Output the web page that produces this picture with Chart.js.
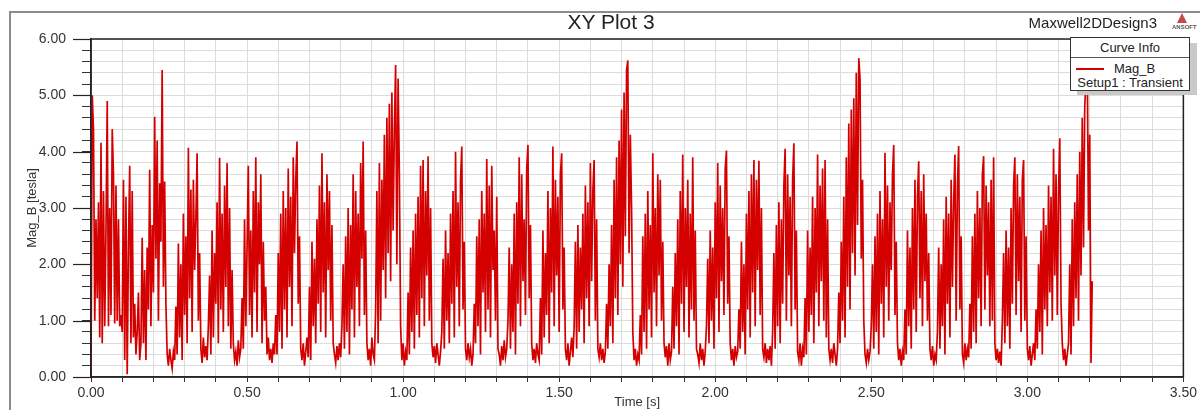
<!DOCTYPE html>
<html>
<head>
<meta charset="utf-8">
<script src="https://cdn.jsdelivr.net/npm/chart.js@4.4.1/dist/chart.umd.min.js"></script>
<style>
  body { margin: 0; background: #fff; }
  #wrap { position: relative; width: 1200px; height: 410px; overflow: hidden; font-family: "Liberation Sans", Arial, sans-serif; color: #222; }
  #frame { position: absolute; left: 9px; top: 11px; width: 1300px; height: 500px; border-left: 2px solid #8c8c8c; border-top: 2px solid #8c8c8c; pointer-events: none; }
  #plotTitle { position: absolute; left: 511px; top: 9px; width: 200px; text-align: center; font-size: 21px; line-height: 26px; }
  #design { position: absolute; left: 960px; top: 14px; width: 197px; text-align: right; font-size: 15px; line-height: 18px; }
  #logo { position: absolute; left: 1171px; top: 12px; width: 29px; height: 20px; }
  #logo .tri { position: absolute; left: 6px; top: 1px; width: 0; height: 0; border-left: 5.5px solid transparent; border-right: 5.5px solid transparent; border-bottom: 10px solid #c84848; }
  #logo .txt { position: absolute; left: 1px; top: 12px; font-size: 6px; font-weight: bold; color: #555; letter-spacing: 0; }
  #shadow { position: absolute; left: 1077px; top: 43px; width: 120px; height: 52px; background: #c9c9c9; }
  #legend { position: absolute; left: 1070px; top: 37px; width: 118px; height: 52px; background: #fff; border: 1px solid #333; font-size: 13px; }
  #legend .head { height: 19px; line-height: 19px; text-align: center; border-bottom: 1px solid #555; }
  #legend .row { position: relative; height: 14px; line-height: 14px; margin-top: 4px; }
  #legend .swatch { position: absolute; left: 5px; top: 6px; width: 28px; height: 2px; background: #d40000; }
  #legend .name { position: absolute; left: 43px; top: 0; }
  #legend .setup { text-align: center; height: 14px; line-height: 14px; }
</style>
</head>
<body>
<div id="wrap">
  <canvas id="plot"></canvas>
  <div id="frame"></div>
  <div id="plotTitle">XY Plot 3</div>
  <div id="design">Maxwell2DDesign3</div>
  <div id="logo"><div class="tri"></div><div class="txt">ANSOFT</div></div>
  <div id="shadow"></div>
  <div id="legend">
    <div class="head">Curve Info</div>
    <div class="row"><div class="swatch"></div><div class="name">Mag_B</div></div>
    <div class="setup">Setup1 : Transient</div>
  </div>
</div>
<script>
const timeStep = 0.004; // s between samples

const magB = [
  0.0, 5.0, 4.4, 1.0, 2.8, 1.4, 3.1, 0.7, 4.16, 0.6, 3.3, 0.9, 2.6, 4.9, 0.9, 3.0, 1.1, 4.4, 3.6,
  0.95, 3.4, 1.0, 2.8, 0.9, 1.1, 0.8,
  3.5, 0.3, 3.2, 0.05, 2.3, 3.75, 0.6, 3.3,
  0.7, 1.3, 0.4, 0.8, 1.5, 0.3, 0.6,
  2.47, 0.6, 1.9, 0.3, 2.3, 1.2, 3.68, 0.9, 2.7, 1.5, 4.62, 2.1, 4.2, 1.0, 3.44, 2.4, 5.45, 1.6, 3.47, 1.3, 0.4, 0.2, 0.5, 0.3, 0.15, 0.45, 0.3,
  1.25, 0.4, 2.37, 0.7, 2.0, 0.3, 2.9, 1.1, 2.5, 0.6, 4.07, 1.4, 3.33, 0.8, 3.5, 1.9, 2.8, 3.97, 1.0, 2.2, 0.5, 0.25, 0.7, 0.35, 0.55, 0.3,
  0.9, 1.8, 0.4, 2.6, 0.7, 2.2, 1.3, 3.1, 0.6, 3.89, 1.2, 2.9, 0.8, 3.4, 1.6, 3.8, 0.9, 3.0, 0.5, 1.9, 0.6, 0.3, 0.45, 0.2, 0.65, 0.35, 0.5,
  1.4, 0.5, 2.8, 0.9, 2.3, 3.75, 1.1, 2.6, 0.7, 3.3, 1.5, 3.9, 0.8, 3.1, 2.0, 3.6, 0.6, 2.4, 1.0, 1.6, 0.4, 0.7, 0.3, 0.5, 0.25, 0.6, 0.4,
  1.1, 0.4, 2.2, 0.8, 2.9, 0.5, 3.3, 1.2, 3.0, 0.7, 3.7, 1.6, 3.2, 0.9, 3.9, 2.2, 3.5, 4.18, 1.3, 2.5, 0.5, 0.3, 0.6, 0.2, 0.45, 0.7, 0.35,
  1.6, 0.3, 2.4, 0.9, 2.1, 0.6, 2.8, 1.3, 3.4, 0.8, 3.97, 1.5, 3.1, 0.7, 3.6, 1.9, 3.3, 1.0, 2.7, 0.6, 0.4, 0.25, 0.55, 0.3, 0.6, 0.35,
  0.9, 2.0, 0.5, 2.5, 0.8, 3.0, 0.4, 2.7, 1.2, 3.6, 0.7, 3.3, 1.6, 2.9, 0.9, 3.8, 2.1, 4.18, 1.1, 2.6, 0.6, 0.3, 0.5, 0.2, 0.7, 0.4, 0.3,
  1.2, 3.3, 0.6, 3.8, 1.0, 3.5, 1.9, 4.3, 1.4, 4.6, 2.2, 4.85, 1.7, 5.05, 2.6, 4.4, 5.54, 2.0, 5.3, 3.6, 0.9, 0.3, 0.6, 0.2, 0.45, 0.3,
  1.5, 0.4, 2.3, 0.8, 2.6, 0.5, 2.9, 1.1, 3.2, 0.7, 3.75, 1.4, 3.85, 0.9, 3.3, 1.8, 3.92, 1.0, 3.0, 0.6, 0.35, 0.55, 0.25, 0.6, 0.4, 0.2, 0.45,
  0.8, 2.1, 0.5, 2.6, 1.0, 2.2, 0.6, 2.9, 1.3, 3.3, 0.7, 4.0, 1.6, 3.1, 0.9, 3.5, 4.09, 1.2, 2.4, 0.5, 0.3, 0.6, 0.35, 0.5, 0.2, 0.4,
  1.3, 0.6, 2.5, 0.9, 2.8, 0.4, 3.3, 1.5, 2.9, 0.8, 3.87, 1.2, 3.4, 0.7, 3.75, 1.9, 2.6, 1.0, 3.2, 0.5, 0.4, 0.2, 0.55, 0.3, 0.65, 0.35, 0.5,
  1.0, 2.3, 0.5, 2.0, 0.8, 2.9, 0.4, 3.1, 1.3, 3.9, 0.9, 3.6, 1.7, 2.8, 1.1, 3.7, 4.12, 1.4, 2.7, 0.6, 0.3, 0.5, 0.25, 0.6, 0.4, 0.3,
  1.4, 0.4, 2.6, 0.7, 2.2, 1.1, 3.3, 0.6, 3.0, 1.5, 4.09, 0.9, 3.5, 1.8, 3.2, 0.8, 3.6, 3.97, 1.2, 2.3, 0.5, 0.3, 0.6, 0.2, 0.45, 0.7, 0.35,
  0.9, 2.4, 0.5, 2.7, 0.8, 2.3, 1.2, 2.9, 0.6, 3.4, 1.4, 3.1, 0.9, 3.8, 1.7, 3.3, 3.85, 1.0, 2.8, 0.5, 0.35, 0.6, 0.3, 0.5, 0.25, 0.45,
  1.3, 0.5, 2.0, 0.9, 2.7, 0.6, 3.5, 1.4, 3.9, 1.1, 4.2, 2.0, 4.75, 1.6, 5.05, 2.5, 5.45, 5.62, 2.2, 4.3, 3.0, 0.8, 0.3, 0.5, 0.2, 0.4, 0.3,
  1.1, 0.4, 2.5, 0.8, 2.9, 0.5, 3.3, 1.2, 2.7, 0.7, 3.97, 1.5, 3.0, 0.9, 3.6, 1.8, 3.5, 1.0, 2.4, 0.6, 0.35, 0.55, 0.2, 0.6, 0.3, 0.45,
  1.6, 0.5, 2.2, 0.9, 2.8, 0.4, 3.3, 1.3, 3.95, 0.8, 3.0, 1.6, 3.5, 0.7, 2.9, 1.2, 3.9, 1.0, 2.6, 0.5, 0.4, 0.25, 0.6, 0.3, 0.5, 0.2, 0.45,
  0.9, 2.1, 0.6, 2.6, 1.0, 2.3, 0.5, 3.1, 1.4, 3.8, 0.8, 3.4, 1.7, 3.0, 1.1, 3.7, 4.02, 1.3, 2.5, 0.6, 0.3, 0.5, 0.2, 0.55, 0.35, 0.45,
  1.2, 0.5, 2.4, 0.8, 2.0, 0.4, 2.9, 1.2, 3.3, 0.7, 3.6, 1.5, 3.85, 0.9, 3.5, 1.9, 3.84, 1.1, 3.0, 0.5, 0.35, 0.6, 0.25, 0.5, 0.3, 0.55, 0.2,
  0.8, 2.2, 0.5, 2.7, 0.9, 3.1, 0.6, 2.8, 1.3, 3.4, 4.05, 1.0, 3.6, 1.8, 3.2, 0.9, 3.5, 4.15, 1.2, 2.6, 0.45, 0.3, 0.6, 0.2, 0.5, 0.35,
  1.4, 0.4, 2.6, 0.8, 2.3, 1.1, 3.2, 0.6, 3.0, 1.5, 3.95, 0.9, 3.4, 1.7, 3.7, 1.0, 3.85, 0.7, 2.8, 0.5, 0.3, 0.5, 0.25, 0.6, 0.4, 0.2, 0.5,
  1.5, 0.6, 2.4, 1.0, 3.2, 0.7, 3.9, 1.6, 4.5, 1.2, 4.75, 2.2, 4.95, 1.8, 5.4, 2.7, 5.66, 5.3, 2.1, 3.5, 1.0, 0.4, 0.25, 0.5, 0.3, 0.45,
  0.9, 2.0, 0.5, 2.5, 0.8, 2.9, 0.4, 3.3, 1.3, 2.8, 0.7, 3.98, 1.6, 3.4, 1.0, 3.1, 1.9, 3.6, 4.12, 1.1, 2.4, 0.6, 0.3, 0.5, 0.2, 0.45, 0.3,
  1.2, 0.4, 2.6, 0.9, 2.3, 0.5, 3.0, 1.2, 3.5, 0.8, 3.2, 3.83, 1.4, 3.3, 0.9, 3.6, 1.7, 2.9, 1.0, 2.2, 0.5, 0.3, 0.55, 0.2, 0.4, 0.3,
  0.8, 2.3, 0.5, 2.0, 0.9, 2.8, 0.4, 3.2, 1.3, 2.9, 0.7, 3.5, 1.6, 3.1, 3.95, 1.0, 3.4, 4.1, 1.2, 2.5, 0.4, 0.25, 0.6, 0.3, 0.5, 0.35,
  1.3, 0.5, 2.5, 0.8, 2.9, 0.6, 3.3, 1.4, 3.0, 0.9, 3.6, 3.92, 1.2, 3.4, 1.8, 3.1, 0.9, 3.5, 1.0, 3.9, 0.6, 0.3, 0.5, 0.25, 0.45, 0.2,
  1.0, 2.2, 0.6, 2.6, 0.9, 2.3, 0.5, 3.0, 1.3, 3.4, 3.9, 1.1, 3.6, 1.7, 3.2, 0.8, 3.5, 3.85, 1.0, 2.5, 0.5, 0.3, 0.55, 0.2, 0.4, 0.6, 0.3,
  1.2, 0.5, 2.0, 0.8, 2.6, 0.4, 3.0, 1.2, 2.7, 0.9, 3.4, 1.5, 3.2, 1.0, 4.05, 1.8, 3.6, 1.1, 3.3, 4.24, 1.3, 0.6, 0.3, 0.5, 0.2, 0.4,
  0.6, 2.0, 0.4, 2.8, 0.9, 3.1, 1.4, 3.6, 1.0, 4.0, 1.8, 4.6, 2.3, 4.8, 5.3, 5.6, 2.6, 4.3, 0.25, 1.7
];

const yTickLabels = ['0.00', '1.00', '2.00', '3.00', '4.00', '5.00', '6.00'];
const xTickLabels = ['0.00', '0.50', '1.00', '1.50', '2.00', '2.50', '3.00', '3.50'];

const points = magB.map((v, i) => ({ x: i * timeStep, y: v }));

const fontFamily = '"Liberation Sans", Arial, sans-serif';

const framePlugin = {
  id: 'frame',
  afterDraw(chart) {
    const { ctx, chartArea: a, scales: { y } } = chart;
    ctx.save();
    ctx.strokeStyle = '#222';
    ctx.lineWidth = 1.5;
    ctx.strokeRect(a.left, a.top, a.right - a.left, a.bottom - a.top);
    ctx.lineWidth = 1.2;
    yTickLabels.forEach((t, i) => {
      const py = Math.round(y.getPixelForValue(i)) + 0.5;
      ctx.beginPath();
      ctx.moveTo(a.left - 18, py);
      ctx.lineTo(a.left, py);
      ctx.stroke();
    });
    ctx.restore();
  }
};

new Chart(document.getElementById('plot'), {
  type: 'line',
  data: {
    datasets: [{
      label: 'Mag_B',
      data: points,
      borderColor: '#d40000',
      borderWidth: 1.7,
      pointRadius: 0,
      tension: 0,
      fill: false
    }]
  },
  options: {
    responsive: true,
    maintainAspectRatio: false,
    animation: false,
    normalized: true,
    layout: { padding: { top: 39, right: 15, left: 0, bottom: 0 } },
    plugins: { legend: { display: false }, tooltip: { enabled: false } },
    scales: {
      x: {
        type: 'linear',
        min: 0,
        max: 3.5,
        afterFit: s => { s.height = 33; },
        ticks: {
          stepSize: 0.1,
          autoSkip: false,
          maxRotation: 0,
          padding: 3,
          color: '#333',
          font: { family: fontFamily, size: 14 },
          callback: v => {
            const k = Math.round(v * 2);
            return Math.abs(v * 2 - k) < 1e-6 ? xTickLabels[k] : '';
          }
        },
        grid: { color: '#dcdcdc', lineWidth: 1, tickLength: 5, tickColor: '#333' },
        border: { display: true, color: '#333', width: 1.5 },
        title: {
          display: true, text: 'Time [s]', color: '#333',
          font: { family: fontFamily, size: 13 }, padding: { top: 0, bottom: 0 }
        }
      },
      y: {
        min: 0,
        max: 6,
        afterFit: s => { s.width = 91; },
        ticks: {
          stepSize: 0.2,
          autoSkip: false,
          padding: 16,
          color: '#333',
          font: { family: fontFamily, size: 14 },
          callback: v => {
            const k = Math.round(v);
            return Math.abs(v - k) < 1e-6 ? yTickLabels[k] : '';
          }
        },
        grid: { color: '#dcdcdc', lineWidth: 1, tickLength: 9, tickColor: '#333' },
        border: { display: true, color: '#222', width: 1.5 },
        title: {
          display: true, text: 'Mag_B [tesla]', color: '#333',
          font: { family: fontFamily, size: 13 }, padding: { top: 25, bottom: 0 }
        }
      }
    }
  },
  plugins: [framePlugin]
});
</script>
</body>
</html>
